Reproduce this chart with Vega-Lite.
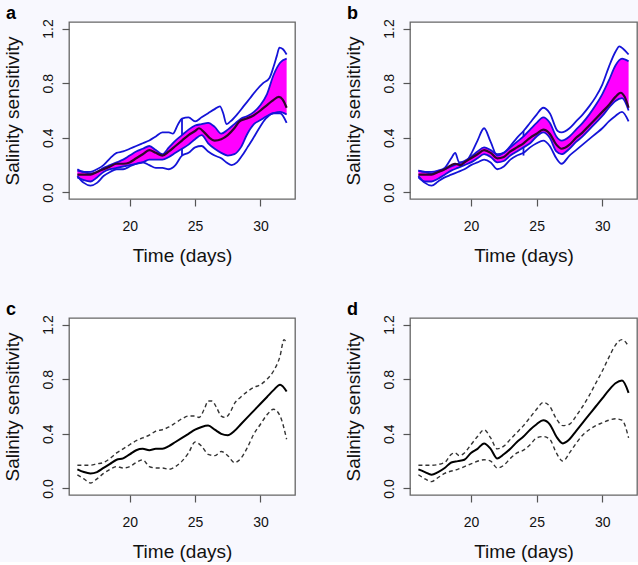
{
  "$schema": "https://vega.github.io/schema/vega-lite/v6.json",
  "background": "#f8f8fe",
  "padding": {"left": 2, "top": 4, "right": 0, "bottom": 0},
  "bounds": "flush",
  "columns": 2,
  "spacing": {"row": 119, "column": 115},
  "datasets": {
    "bands": [
      {"p":"a","day":16,"y":0.11,"y2":0.16},{"p":"a","day":16.5,"y":0.09,"y2":0.15},{"p":"a","day":17,"y":0.08,"y2":0.14},{"p":"a","day":17.5,"y":0.11,"y2":0.15},{"p":"a","day":18,"y":0.15,"y2":0.18},{"p":"a","day":18.5,"y":0.17,"y2":0.2},{"p":"a","day":19,"y":0.18,"y2":0.22},{"p":"a","day":19.5,"y":0.19,"y2":0.24},{"p":"a","day":20,"y":0.2,"y2":0.27},{"p":"a","day":20.5,"y":0.21,"y2":0.3},{"p":"a","day":21,"y":0.22,"y2":0.32},{"p":"a","day":21.5,"y":0.24,"y2":0.34},{"p":"a","day":22,"y":0.24,"y2":0.31},{"p":"a","day":22.5,"y":0.24,"y2":0.28},{"p":"a","day":23,"y":0.26,"y2":0.33},{"p":"a","day":23.5,"y":0.29,"y2":0.38},{"p":"a","day":24,"y":0.32,"y2":0.42},{"p":"a","day":24.5,"y":0.35,"y2":0.46},{"p":"a","day":25,"y":0.39,"y2":0.49},{"p":"a","day":25.5,"y":0.42,"y2":0.5},{"p":"a","day":26,"y":0.36,"y2":0.51},{"p":"a","day":26.5,"y":0.32,"y2":0.48},{"p":"a","day":27,"y":0.29,"y2":0.43},{"p":"a","day":27.5,"y":0.27,"y2":0.46},{"p":"a","day":28,"y":0.28,"y2":0.5},{"p":"a","day":28.5,"y":0.33,"y2":0.54},{"p":"a","day":29,"y":0.43,"y2":0.56},{"p":"a","day":29.5,"y":0.5,"y2":0.59},{"p":"a","day":30,"y":0.53,"y2":0.64},{"p":"a","day":30.5,"y":0.56,"y2":0.72},{"p":"a","day":31,"y":0.58,"y2":0.86},{"p":"a","day":31.5,"y":0.59,"y2":0.95},{"p":"a","day":32,"y":0.57,"y2":0.98},
      {"p":"b","day":16,"y":0.11,"y2":0.16},{"p":"b","day":16.5,"y":0.08,"y2":0.15},{"p":"b","day":17,"y":0.08,"y2":0.14},{"p":"b","day":17.5,"y":0.1,"y2":0.15},{"p":"b","day":18,"y":0.13,"y2":0.17},{"p":"b","day":18.5,"y":0.16,"y2":0.19},{"p":"b","day":19,"y":0.18,"y2":0.21},{"p":"b","day":19.5,"y":0.2,"y2":0.23},{"p":"b","day":20,"y":0.22,"y2":0.26},{"p":"b","day":20.5,"y":0.25,"y2":0.3},{"p":"b","day":21,"y":0.28,"y2":0.33},{"p":"b","day":21.5,"y":0.26,"y2":0.31},{"p":"b","day":22,"y":0.22,"y2":0.28},{"p":"b","day":22.5,"y":0.23,"y2":0.29},{"p":"b","day":23,"y":0.27,"y2":0.33},{"p":"b","day":23.5,"y":0.3,"y2":0.37},{"p":"b","day":24,"y":0.33,"y2":0.41},{"p":"b","day":24.5,"y":0.36,"y2":0.46},{"p":"b","day":25,"y":0.41,"y2":0.51},{"p":"b","day":25.5,"y":0.44,"y2":0.55},{"p":"b","day":26,"y":0.4,"y2":0.51},{"p":"b","day":26.5,"y":0.3,"y2":0.41},{"p":"b","day":26.9,"y":0.28,"y2":0.38},{"p":"b","day":27.5,"y":0.32,"y2":0.41},{"p":"b","day":28,"y":0.37,"y2":0.46},{"p":"b","day":28.5,"y":0.41,"y2":0.51},{"p":"b","day":29,"y":0.46,"y2":0.57},{"p":"b","day":29.5,"y":0.51,"y2":0.64},{"p":"b","day":30,"y":0.56,"y2":0.72},{"p":"b","day":30.5,"y":0.62,"y2":0.82},{"p":"b","day":31,"y":0.67,"y2":0.93},{"p":"b","day":31.5,"y":0.69,"y2":0.98},{"p":"b","day":32,"y":0.6,"y2":0.96}
    ],
    "env": [
      {"p":"a","s":"up","day":16,"y":0.17},{"p":"a","s":"up","day":16.5,"y":0.15},{"p":"a","s":"up","day":17,"y":0.15},{"p":"a","s":"up","day":17.5,"y":0.17},{"p":"a","s":"up","day":18,"y":0.2},{"p":"a","s":"up","day":18.5,"y":0.25},{"p":"a","s":"up","day":19,"y":0.29},{"p":"a","s":"up","day":19.5,"y":0.3},{"p":"a","s":"up","day":20,"y":0.32},{"p":"a","s":"up","day":20.5,"y":0.34},{"p":"a","s":"up","day":21,"y":0.36},{"p":"a","s":"up","day":21.5,"y":0.38},{"p":"a","s":"up","day":22,"y":0.41},{"p":"a","s":"up","day":22.5,"y":0.44},{"p":"a","s":"up","day":23,"y":0.44},{"p":"a","s":"up","day":23.3,"y":0.43},{"p":"a","s":"up","day":23.7,"y":0.5},{"p":"a","s":"up","day":24,"y":0.54},{"p":"a","s":"up","day":24.5,"y":0.55},{"p":"a","s":"up","day":25,"y":0.52},{"p":"a","s":"up","day":25.5,"y":0.55},{"p":"a","s":"up","day":26,"y":0.58},{"p":"a","s":"up","day":26.5,"y":0.61},{"p":"a","s":"up","day":26.9,"y":0.63},{"p":"a","s":"up","day":27.15,"y":0.58},{"p":"a","s":"up","day":27.4,"y":0.5},{"p":"a","s":"up","day":27.7,"y":0.52},{"p":"a","s":"up","day":28.2,"y":0.57},{"p":"a","s":"up","day":28.7,"y":0.63},{"p":"a","s":"up","day":29.2,"y":0.69},{"p":"a","s":"up","day":29.7,"y":0.75},{"p":"a","s":"up","day":30.2,"y":0.8},{"p":"a","s":"up","day":30.7,"y":0.84},{"p":"a","s":"up","day":31,"y":0.92},{"p":"a","s":"up","day":31.25,"y":1.0},{"p":"a","s":"up","day":31.45,"y":1.06},{"p":"a","s":"up","day":31.7,"y":1.05},{"p":"a","s":"up","day":32,"y":1.01},
      {"p":"a","s":"lo","day":16,"y":0.12},{"p":"a","s":"lo","day":16.5,"y":0.07},{"p":"a","s":"lo","day":17,"y":0.05},{"p":"a","s":"lo","day":17.5,"y":0.07},{"p":"a","s":"lo","day":18,"y":0.12},{"p":"a","s":"lo","day":18.5,"y":0.15},{"p":"a","s":"lo","day":19,"y":0.17},{"p":"a","s":"lo","day":19.5,"y":0.17},{"p":"a","s":"lo","day":20,"y":0.19},{"p":"a","s":"lo","day":20.5,"y":0.21},{"p":"a","s":"lo","day":21,"y":0.22},{"p":"a","s":"lo","day":21.5,"y":0.2},{"p":"a","s":"lo","day":22,"y":0.18},{"p":"a","s":"lo","day":22.5,"y":0.18},{"p":"a","s":"lo","day":23,"y":0.17},{"p":"a","s":"lo","day":23.5,"y":0.2},{"p":"a","s":"lo","day":24,"y":0.27},{"p":"a","s":"lo","day":24.5,"y":0.29},{"p":"a","s":"lo","day":25,"y":0.33},{"p":"a","s":"lo","day":25.5,"y":0.34},{"p":"a","s":"lo","day":26,"y":0.3},{"p":"a","s":"lo","day":26.5,"y":0.27},{"p":"a","s":"lo","day":27,"y":0.25},{"p":"a","s":"lo","day":27.4,"y":0.22},{"p":"a","s":"lo","day":27.8,"y":0.2},{"p":"a","s":"lo","day":28.2,"y":0.22},{"p":"a","s":"lo","day":28.6,"y":0.27},{"p":"a","s":"lo","day":29,"y":0.33},{"p":"a","s":"lo","day":29.4,"y":0.39},{"p":"a","s":"lo","day":29.9,"y":0.47},{"p":"a","s":"lo","day":30.4,"y":0.54},{"p":"a","s":"lo","day":31,"y":0.58},{"p":"a","s":"lo","day":31.5,"y":0.58},{"p":"a","s":"lo","day":32,"y":0.51},
      {"p":"b","s":"up","day":16,"y":0.16},{"p":"b","s":"up","day":16.5,"y":0.15},{"p":"b","s":"up","day":17,"y":0.15},{"p":"b","s":"up","day":17.5,"y":0.16},{"p":"b","s":"up","day":18,"y":0.18},{"p":"b","s":"up","day":18.5,"y":0.25},{"p":"b","s":"up","day":18.8,"y":0.29},{"p":"b","s":"up","day":19.1,"y":0.22},{"p":"b","s":"up","day":19.5,"y":0.22},{"p":"b","s":"up","day":20,"y":0.28},{"p":"b","s":"up","day":20.5,"y":0.38},{"p":"b","s":"up","day":21,"y":0.47},{"p":"b","s":"up","day":21.5,"y":0.37},{"p":"b","s":"up","day":22,"y":0.27},{"p":"b","s":"up","day":22.5,"y":0.29},{"p":"b","s":"up","day":23,"y":0.34},{"p":"b","s":"up","day":23.5,"y":0.4},{"p":"b","s":"up","day":24,"y":0.45},{"p":"b","s":"up","day":24.5,"y":0.51},{"p":"b","s":"up","day":25,"y":0.57},{"p":"b","s":"up","day":25.5,"y":0.62},{"p":"b","s":"up","day":26,"y":0.58},{"p":"b","s":"up","day":26.6,"y":0.45},{"p":"b","s":"up","day":26.9,"y":0.44},{"p":"b","s":"up","day":27.5,"y":0.47},{"p":"b","s":"up","day":28,"y":0.52},{"p":"b","s":"up","day":28.5,"y":0.57},{"p":"b","s":"up","day":29,"y":0.63},{"p":"b","s":"up","day":29.5,"y":0.7},{"p":"b","s":"up","day":30,"y":0.79},{"p":"b","s":"up","day":30.5,"y":0.92},{"p":"b","s":"up","day":31,"y":1.03},{"p":"b","s":"up","day":31.3,"y":1.07},{"p":"b","s":"up","day":31.6,"y":1.05},{"p":"b","s":"up","day":32,"y":1.01},
      {"p":"b","s":"lo","day":16,"y":0.12},{"p":"b","s":"lo","day":16.5,"y":0.07},{"p":"b","s":"lo","day":17,"y":0.05},{"p":"b","s":"lo","day":17.5,"y":0.08},{"p":"b","s":"lo","day":18,"y":0.11},{"p":"b","s":"lo","day":18.5,"y":0.13},{"p":"b","s":"lo","day":19,"y":0.15},{"p":"b","s":"lo","day":19.5,"y":0.17},{"p":"b","s":"lo","day":20,"y":0.2},{"p":"b","s":"lo","day":20.5,"y":0.22},{"p":"b","s":"lo","day":21,"y":0.24},{"p":"b","s":"lo","day":21.5,"y":0.22},{"p":"b","s":"lo","day":22,"y":0.17},{"p":"b","s":"lo","day":22.5,"y":0.19},{"p":"b","s":"lo","day":23,"y":0.24},{"p":"b","s":"lo","day":23.5,"y":0.27},{"p":"b","s":"lo","day":24,"y":0.29},{"p":"b","s":"lo","day":24.5,"y":0.33},{"p":"b","s":"lo","day":25,"y":0.36},{"p":"b","s":"lo","day":25.5,"y":0.38},{"p":"b","s":"lo","day":26,"y":0.34},{"p":"b","s":"lo","day":26.5,"y":0.25},{"p":"b","s":"lo","day":26.9,"y":0.21},{"p":"b","s":"lo","day":27.5,"y":0.27},{"p":"b","s":"lo","day":28,"y":0.31},{"p":"b","s":"lo","day":28.5,"y":0.35},{"p":"b","s":"lo","day":29,"y":0.39},{"p":"b","s":"lo","day":29.5,"y":0.43},{"p":"b","s":"lo","day":30,"y":0.47},{"p":"b","s":"lo","day":30.5,"y":0.52},{"p":"b","s":"lo","day":31,"y":0.56},{"p":"b","s":"lo","day":31.5,"y":0.59},{"p":"b","s":"lo","day":32,"y":0.52}
    ],
    "whisk": [
      {"p":"a","day":24,"y":0.27,"y2":0.32},{"p":"a","day":24,"y":0.42,"y2":0.54},
      {"p":"b","day":24,"y":0.27,"y2":0.33},{"p":"b","day":24,"y":0.41,"y2":0.45}
    ],
    "mid": [
      {"p":"a","day":16,"y":0.13},{"p":"a","day":16.5,"y":0.13},{"p":"a","day":17,"y":0.13},{"p":"a","day":17.5,"y":0.15},{"p":"a","day":18,"y":0.17},{"p":"a","day":18.5,"y":0.19},{"p":"a","day":19,"y":0.21},{"p":"a","day":19.5,"y":0.21},{"p":"a","day":20,"y":0.22},{"p":"a","day":20.5,"y":0.25},{"p":"a","day":21,"y":0.28},{"p":"a","day":21.5,"y":0.31},{"p":"a","day":22,"y":0.29},{"p":"a","day":22.5,"y":0.27},{"p":"a","day":23,"y":0.3},{"p":"a","day":23.5,"y":0.34},{"p":"a","day":24,"y":0.38},{"p":"a","day":24.5,"y":0.42},{"p":"a","day":25,"y":0.45},{"p":"a","day":25.3,"y":0.47},{"p":"a","day":25.7,"y":0.44},{"p":"a","day":26.1,"y":0.4},{"p":"a","day":26.5,"y":0.38},{"p":"a","day":27,"y":0.39},{"p":"a","day":27.5,"y":0.42},{"p":"a","day":28,"y":0.47},{"p":"a","day":28.4,"y":0.52},{"p":"a","day":28.9,"y":0.54},{"p":"a","day":29.4,"y":0.56},{"p":"a","day":30,"y":0.6},{"p":"a","day":30.5,"y":0.64},{"p":"a","day":30.9,"y":0.67},{"p":"a","day":31.4,"y":0.7},{"p":"a","day":31.7,"y":0.68},{"p":"a","day":32,"y":0.62},
      {"p":"b","day":16,"y":0.13},{"p":"b","day":16.5,"y":0.13},{"p":"b","day":17,"y":0.13},{"p":"b","day":17.5,"y":0.15},{"p":"b","day":18,"y":0.17},{"p":"b","day":18.5,"y":0.2},{"p":"b","day":18.8,"y":0.21},{"p":"b","day":19.2,"y":0.2},{"p":"b","day":19.5,"y":0.22},{"p":"b","day":20,"y":0.25},{"p":"b","day":20.5,"y":0.28},{"p":"b","day":21,"y":0.31},{"p":"b","day":21.5,"y":0.29},{"p":"b","day":22,"y":0.25},{"p":"b","day":22.5,"y":0.26},{"p":"b","day":23,"y":0.3},{"p":"b","day":23.5,"y":0.33},{"p":"b","day":24,"y":0.36},{"p":"b","day":24.5,"y":0.4},{"p":"b","day":25,"y":0.43},{"p":"b","day":25.5,"y":0.46},{"p":"b","day":26,"y":0.43},{"p":"b","day":26.5,"y":0.35},{"p":"b","day":26.9,"y":0.32},{"p":"b","day":27.5,"y":0.35},{"p":"b","day":28,"y":0.4},{"p":"b","day":28.5,"y":0.44},{"p":"b","day":29,"y":0.49},{"p":"b","day":29.5,"y":0.54},{"p":"b","day":30,"y":0.59},{"p":"b","day":30.5,"y":0.64},{"p":"b","day":31,"y":0.7},{"p":"b","day":31.4,"y":0.73},{"p":"b","day":31.7,"y":0.7},{"p":"b","day":32,"y":0.62},
      {"p":"c","day":16,"y":0.14},{"p":"c","day":16.5,"y":0.12},{"p":"c","day":17,"y":0.11},{"p":"c","day":17.5,"y":0.12},{"p":"c","day":18,"y":0.15},{"p":"c","day":18.5,"y":0.18},{"p":"c","day":19,"y":0.21},{"p":"c","day":19.5,"y":0.22},{"p":"c","day":20,"y":0.25},{"p":"c","day":20.5,"y":0.28},{"p":"c","day":21,"y":0.29},{"p":"c","day":21.5,"y":0.28},{"p":"c","day":22,"y":0.29},{"p":"c","day":22.5,"y":0.29},{"p":"c","day":23,"y":0.31},{"p":"c","day":23.5,"y":0.34},{"p":"c","day":24,"y":0.37},{"p":"c","day":24.5,"y":0.4},{"p":"c","day":25,"y":0.43},{"p":"c","day":25.5,"y":0.45},{"p":"c","day":26,"y":0.46},{"p":"c","day":26.5,"y":0.43},{"p":"c","day":27,"y":0.4},{"p":"c","day":27.5,"y":0.39},{"p":"c","day":28,"y":0.42},{"p":"c","day":28.5,"y":0.47},{"p":"c","day":29,"y":0.52},{"p":"c","day":29.5,"y":0.57},{"p":"c","day":30,"y":0.62},{"p":"c","day":30.5,"y":0.67},{"p":"c","day":31,"y":0.72},{"p":"c","day":31.5,"y":0.76},{"p":"c","day":32,"y":0.71},
      {"p":"d","day":16,"y":0.14},{"p":"d","day":16.5,"y":0.12},{"p":"d","day":17,"y":0.1},{"p":"d","day":17.5,"y":0.12},{"p":"d","day":18,"y":0.15},{"p":"d","day":18.5,"y":0.19},{"p":"d","day":19,"y":0.2},{"p":"d","day":19.5,"y":0.21},{"p":"d","day":20,"y":0.26},{"p":"d","day":20.5,"y":0.29},{"p":"d","day":21,"y":0.33},{"p":"d","day":21.5,"y":0.29},{"p":"d","day":22,"y":0.22},{"p":"d","day":22.5,"y":0.25},{"p":"d","day":23,"y":0.29},{"p":"d","day":23.5,"y":0.34},{"p":"d","day":24,"y":0.38},{"p":"d","day":24.5,"y":0.43},{"p":"d","day":25,"y":0.47},{"p":"d","day":25.5,"y":0.5},{"p":"d","day":26,"y":0.47},{"p":"d","day":26.5,"y":0.38},{"p":"d","day":27,"y":0.33},{"p":"d","day":27.5,"y":0.36},{"p":"d","day":28,"y":0.42},{"p":"d","day":28.5,"y":0.48},{"p":"d","day":29,"y":0.54},{"p":"d","day":29.5,"y":0.6},{"p":"d","day":30,"y":0.66},{"p":"d","day":30.5,"y":0.72},{"p":"d","day":31,"y":0.77},{"p":"d","day":31.5,"y":0.79},{"p":"d","day":32,"y":0.7}
    ],
    "ci": [
      {"p":"c","s":"up","day":16,"y":0.17},{"p":"c","s":"up","day":17,"y":0.17},{"p":"c","s":"up","day":17.5,"y":0.18},{"p":"c","s":"up","day":18,"y":0.19},{"p":"c","s":"up","day":18.5,"y":0.22},{"p":"c","s":"up","day":19,"y":0.26},{"p":"c","s":"up","day":19.5,"y":0.29},{"p":"c","s":"up","day":20,"y":0.32},{"p":"c","s":"up","day":20.5,"y":0.35},{"p":"c","s":"up","day":21,"y":0.37},{"p":"c","s":"up","day":21.5,"y":0.39},{"p":"c","s":"up","day":22,"y":0.42},{"p":"c","s":"up","day":22.5,"y":0.43},{"p":"c","s":"up","day":23,"y":0.45},{"p":"c","s":"up","day":23.5,"y":0.48},{"p":"c","s":"up","day":24,"y":0.51},{"p":"c","s":"up","day":24.5,"y":0.53},{"p":"c","s":"up","day":25,"y":0.53},{"p":"c","s":"up","day":25.3,"y":0.52},{"p":"c","s":"up","day":25.7,"y":0.58},{"p":"c","s":"up","day":26,"y":0.64},{"p":"c","s":"up","day":26.3,"y":0.64},{"p":"c","s":"up","day":26.6,"y":0.6},{"p":"c","s":"up","day":27,"y":0.53},{"p":"c","s":"up","day":27.3,"y":0.52},{"p":"c","s":"up","day":27.7,"y":0.56},{"p":"c","s":"up","day":28,"y":0.62},{"p":"c","s":"up","day":28.5,"y":0.67},{"p":"c","s":"up","day":29,"y":0.71},{"p":"c","s":"up","day":29.5,"y":0.74},{"p":"c","s":"up","day":30,"y":0.76},{"p":"c","s":"up","day":30.5,"y":0.8},{"p":"c","s":"up","day":31,"y":0.86},{"p":"c","s":"up","day":31.5,"y":0.97},{"p":"c","s":"up","day":31.8,"y":1.09},{"p":"c","s":"up","day":32,"y":1.06},
      {"p":"c","s":"lo","day":16,"y":0.1},{"p":"c","s":"lo","day":16.5,"y":0.07},{"p":"c","s":"lo","day":17,"y":0.04},{"p":"c","s":"lo","day":17.5,"y":0.07},{"p":"c","s":"lo","day":18,"y":0.11},{"p":"c","s":"lo","day":18.5,"y":0.14},{"p":"c","s":"lo","day":19,"y":0.16},{"p":"c","s":"lo","day":19.5,"y":0.15},{"p":"c","s":"lo","day":20,"y":0.16},{"p":"c","s":"lo","day":20.5,"y":0.19},{"p":"c","s":"lo","day":21,"y":0.21},{"p":"c","s":"lo","day":21.5,"y":0.16},{"p":"c","s":"lo","day":22,"y":0.15},{"p":"c","s":"lo","day":22.5,"y":0.15},{"p":"c","s":"lo","day":23,"y":0.14},{"p":"c","s":"lo","day":23.5,"y":0.16},{"p":"c","s":"lo","day":24,"y":0.2},{"p":"c","s":"lo","day":24.5,"y":0.26},{"p":"c","s":"lo","day":25,"y":0.34},{"p":"c","s":"lo","day":25.5,"y":0.31},{"p":"c","s":"lo","day":26,"y":0.25},{"p":"c","s":"lo","day":26.5,"y":0.24},{"p":"c","s":"lo","day":27,"y":0.27},{"p":"c","s":"lo","day":27.5,"y":0.24},{"p":"c","s":"lo","day":28,"y":0.19},{"p":"c","s":"lo","day":28.5,"y":0.22},{"p":"c","s":"lo","day":29,"y":0.3},{"p":"c","s":"lo","day":29.5,"y":0.4},{"p":"c","s":"lo","day":30,"y":0.47},{"p":"c","s":"lo","day":30.5,"y":0.54},{"p":"c","s":"lo","day":31,"y":0.58},{"p":"c","s":"lo","day":31.5,"y":0.53},{"p":"c","s":"lo","day":32,"y":0.36},
      {"p":"d","s":"up","day":16,"y":0.17},{"p":"d","s":"up","day":17,"y":0.17},{"p":"d","s":"up","day":18,"y":0.19},{"p":"d","s":"up","day":18.5,"y":0.25},{"p":"d","s":"up","day":18.8,"y":0.26},{"p":"d","s":"up","day":19.1,"y":0.24},{"p":"d","s":"up","day":19.5,"y":0.26},{"p":"d","s":"up","day":20,"y":0.32},{"p":"d","s":"up","day":20.5,"y":0.38},{"p":"d","s":"up","day":21,"y":0.43},{"p":"d","s":"up","day":21.5,"y":0.37},{"p":"d","s":"up","day":22,"y":0.29},{"p":"d","s":"up","day":22.5,"y":0.31},{"p":"d","s":"up","day":23,"y":0.36},{"p":"d","s":"up","day":23.5,"y":0.41},{"p":"d","s":"up","day":24,"y":0.46},{"p":"d","s":"up","day":24.5,"y":0.52},{"p":"d","s":"up","day":25,"y":0.58},{"p":"d","s":"up","day":25.5,"y":0.63},{"p":"d","s":"up","day":26,"y":0.6},{"p":"d","s":"up","day":26.5,"y":0.51},{"p":"d","s":"up","day":27,"y":0.46},{"p":"d","s":"up","day":27.5,"y":0.47},{"p":"d","s":"up","day":28,"y":0.53},{"p":"d","s":"up","day":28.5,"y":0.6},{"p":"d","s":"up","day":29,"y":0.68},{"p":"d","s":"up","day":29.5,"y":0.77},{"p":"d","s":"up","day":30,"y":0.86},{"p":"d","s":"up","day":30.5,"y":0.96},{"p":"d","s":"up","day":31,"y":1.05},{"p":"d","s":"up","day":31.5,"y":1.09},{"p":"d","s":"up","day":32,"y":1.04},
      {"p":"d","s":"lo","day":16,"y":0.1},{"p":"d","s":"lo","day":16.5,"y":0.07},{"p":"d","s":"lo","day":17,"y":0.05},{"p":"d","s":"lo","day":17.5,"y":0.08},{"p":"d","s":"lo","day":18,"y":0.11},{"p":"d","s":"lo","day":19,"y":0.14},{"p":"d","s":"lo","day":20,"y":0.18},{"p":"d","s":"lo","day":21,"y":0.21},{"p":"d","s":"lo","day":21.5,"y":0.2},{"p":"d","s":"lo","day":22,"y":0.15},{"p":"d","s":"lo","day":22.5,"y":0.17},{"p":"d","s":"lo","day":23,"y":0.22},{"p":"d","s":"lo","day":23.5,"y":0.26},{"p":"d","s":"lo","day":24,"y":0.28},{"p":"d","s":"lo","day":24.5,"y":0.32},{"p":"d","s":"lo","day":25,"y":0.37},{"p":"d","s":"lo","day":25.5,"y":0.38},{"p":"d","s":"lo","day":26,"y":0.36},{"p":"d","s":"lo","day":26.5,"y":0.26},{"p":"d","s":"lo","day":27,"y":0.2},{"p":"d","s":"lo","day":27.5,"y":0.26},{"p":"d","s":"lo","day":28,"y":0.33},{"p":"d","s":"lo","day":28.5,"y":0.39},{"p":"d","s":"lo","day":29,"y":0.43},{"p":"d","s":"lo","day":29.5,"y":0.46},{"p":"d","s":"lo","day":30,"y":0.48},{"p":"d","s":"lo","day":30.5,"y":0.5},{"p":"d","s":"lo","day":31,"y":0.51},{"p":"d","s":"lo","day":31.5,"y":0.5},{"p":"d","s":"lo","day":32,"y":0.37}
    ]
  },
  "concat": [
    {
      "title": "a", "width": 226, "height": 177,
      "encoding": {
        "x": {"field": "day", "type": "quantitative", "scale": {"domain": [15.36, 32.64], "nice": false, "zero": false}, "axis": {"values": [20, 25, 30], "title": "Time (days)"}},
        "y": {"field": "y", "type": "quantitative", "scale": {"domain": [-0.048, 1.248], "nice": false, "zero": false}, "axis": {"values": [0, 0.4, 0.8, 1.2], "format": ".1f", "title": "Salinity sensitivity"}}
      },
      "layer": [
        {"data": {"name": "bands"}, "transform": [{"filter": "datum.p === 'a'"}], "mark": {"type": "area", "color": "#ff00ff", "opacity": 1, "interpolate": "monotone"}, "encoding": {"y2": {"field": "y2"}}},
        {"data": {"name": "bands"}, "transform": [{"filter": "datum.p === 'a'"}], "mark": {"type": "line", "color": "#1414d8", "strokeWidth": 1.8, "interpolate": "monotone"}, "encoding": {}},
        {"data": {"name": "bands"}, "transform": [{"filter": "datum.p === 'a'"}], "mark": {"type": "line", "color": "#1414d8", "strokeWidth": 1.8, "interpolate": "monotone"}, "encoding": {"y": {"field": "y2", "type": "quantitative"}}},
        {"data": {"name": "env"}, "transform": [{"filter": "datum.p === 'a'"}], "mark": {"type": "line", "color": "#1414d8", "strokeWidth": 1.8, "interpolate": "monotone"}, "encoding": {"detail": {"field": "s"}}},
        {"data": {"name": "whisk"}, "transform": [{"filter": "datum.p === 'a'"}], "mark": {"type": "rule", "color": "#1414d8", "strokeWidth": 1.8}, "encoding": {"y2": {"field": "y2"}}},
        {"data": {"name": "mid"}, "transform": [{"filter": "datum.p === 'a'"}], "mark": {"type": "line", "color": "#30062e", "strokeWidth": 2.2, "interpolate": "monotone"}, "encoding": {}}
      ]
    },
    {
      "title": "b", "width": 227, "height": 177,
      "encoding": {
        "x": {"field": "day", "type": "quantitative", "scale": {"domain": [15.36, 32.64], "nice": false, "zero": false}, "axis": {"values": [20, 25, 30], "title": "Time (days)"}},
        "y": {"field": "y", "type": "quantitative", "scale": {"domain": [-0.048, 1.248], "nice": false, "zero": false}, "axis": {"values": [0, 0.4, 0.8, 1.2], "format": ".1f", "title": "Salinity sensitivity"}}
      },
      "layer": [
        {"data": {"name": "bands"}, "transform": [{"filter": "datum.p === 'b'"}], "mark": {"type": "area", "color": "#ff00ff", "opacity": 1, "interpolate": "monotone"}, "encoding": {"y2": {"field": "y2"}}},
        {"data": {"name": "bands"}, "transform": [{"filter": "datum.p === 'b'"}], "mark": {"type": "line", "color": "#1414d8", "strokeWidth": 1.8, "interpolate": "monotone"}, "encoding": {}},
        {"data": {"name": "bands"}, "transform": [{"filter": "datum.p === 'b'"}], "mark": {"type": "line", "color": "#1414d8", "strokeWidth": 1.8, "interpolate": "monotone"}, "encoding": {"y": {"field": "y2", "type": "quantitative"}}},
        {"data": {"name": "env"}, "transform": [{"filter": "datum.p === 'b'"}], "mark": {"type": "line", "color": "#1414d8", "strokeWidth": 1.8, "interpolate": "monotone"}, "encoding": {"detail": {"field": "s"}}},
        {"data": {"name": "whisk"}, "transform": [{"filter": "datum.p === 'b'"}], "mark": {"type": "rule", "color": "#1414d8", "strokeWidth": 1.8}, "encoding": {"y2": {"field": "y2"}}},
        {"data": {"name": "mid"}, "transform": [{"filter": "datum.p === 'b'"}], "mark": {"type": "line", "color": "#30062e", "strokeWidth": 2.2, "interpolate": "monotone"}, "encoding": {}}
      ]
    },
    {
      "title": "c", "width": 226, "height": 177,
      "encoding": {
        "x": {"field": "day", "type": "quantitative", "scale": {"domain": [15.36, 32.64], "nice": false, "zero": false}, "axis": {"values": [20, 25, 30], "title": "Time (days)"}},
        "y": {"field": "y", "type": "quantitative", "scale": {"domain": [-0.048, 1.248], "nice": false, "zero": false}, "axis": {"values": [0, 0.4, 0.8, 1.2], "format": ".1f", "title": "Salinity sensitivity"}}
      },
      "layer": [
        {"data": {"name": "ci"}, "transform": [{"filter": "datum.p === 'c'"}], "mark": {"type": "line", "color": "#333333", "strokeWidth": 1.4, "strokeDash": [4, 3], "interpolate": "monotone"}, "encoding": {"detail": {"field": "s"}}},
        {"data": {"name": "mid"}, "transform": [{"filter": "datum.p === 'c'"}], "mark": {"type": "line", "color": "#000000", "strokeWidth": 2, "interpolate": "monotone"}, "encoding": {}}
      ]
    },
    {
      "title": "d", "width": 227, "height": 177,
      "encoding": {
        "x": {"field": "day", "type": "quantitative", "scale": {"domain": [15.36, 32.64], "nice": false, "zero": false}, "axis": {"values": [20, 25, 30], "title": "Time (days)"}},
        "y": {"field": "y", "type": "quantitative", "scale": {"domain": [-0.048, 1.248], "nice": false, "zero": false}, "axis": {"values": [0, 0.4, 0.8, 1.2], "format": ".1f", "title": "Salinity sensitivity"}}
      },
      "layer": [
        {"data": {"name": "ci"}, "transform": [{"filter": "datum.p === 'd'"}], "mark": {"type": "line", "color": "#333333", "strokeWidth": 1.4, "strokeDash": [4, 3], "interpolate": "monotone"}, "encoding": {"detail": {"field": "s"}}},
        {"data": {"name": "mid"}, "transform": [{"filter": "datum.p === 'd'"}], "mark": {"type": "line", "color": "#000000", "strokeWidth": 2, "interpolate": "monotone"}, "encoding": {}}
      ]
    }
  ],
  "config": {
    "font": "Liberation Sans",
    "view": {"stroke": "#666666", "strokeWidth": 1.3, "fill": "#ffffff"},
    "axis": {"domain": false, "grid": false, "ticks": true, "tickColor": "#555555", "tickSize": 7, "tickWidth": 1.2, "labelFont": "Liberation Sans", "labelFontSize": 14, "labelColor": "#111111", "labelFlush": false, "labelOverlap": false, "titleFont": "Liberation Sans", "titleFontSize": 19, "titleFontWeight": "normal", "titleColor": "#111111"},
    "axisX": {"labelPadding": 13, "titlePadding": 13},
    "axisY": {"labelAngle": 270, "labelAlign": "center", "labelBaseline": "bottom", "labelPadding": 7, "titlePadding": 19},
    "title": {"anchor": "start", "frame": "group", "fontSize": 18, "fontWeight": "bold", "font": "Liberation Sans", "color": "#000000", "dx": -63, "offset": -4, "baseline": "alphabetic"}
  }
}
